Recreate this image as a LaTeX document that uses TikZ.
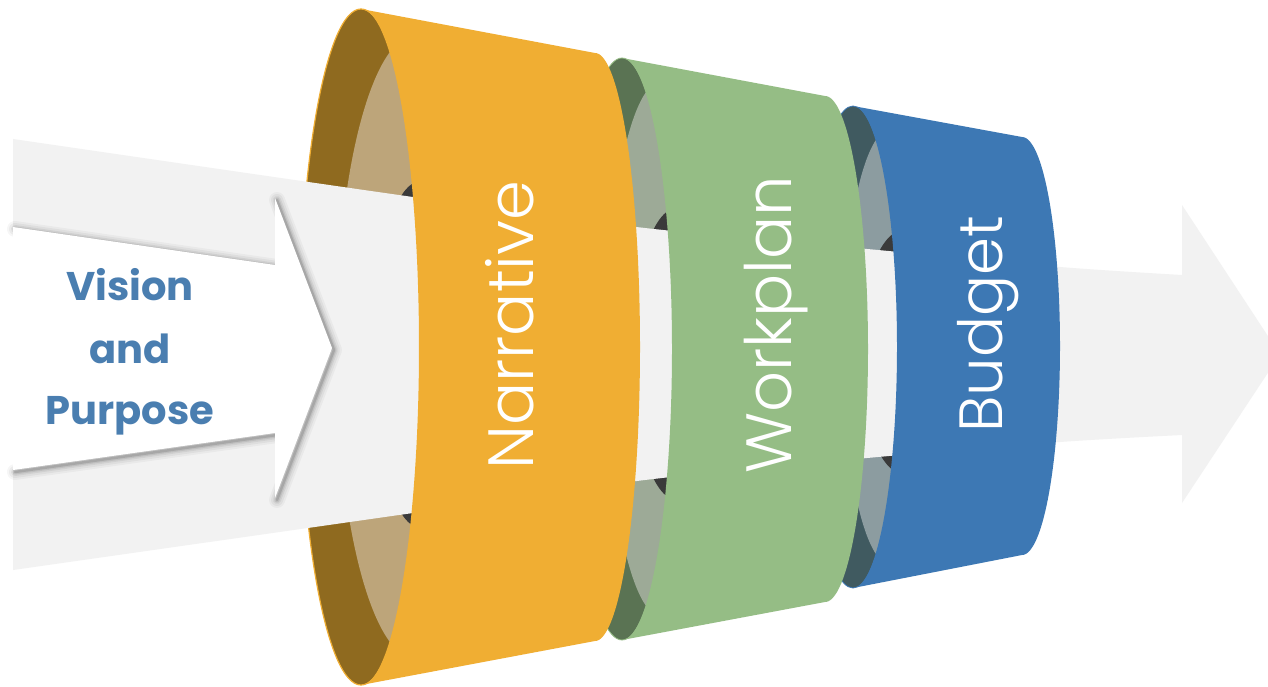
\documentclass[tikz,border=0pt]{standalone}
\usepackage{fontspec}
\setmainfont{Poppins}
\newfontfamily\lightfont{Poppins Light}
\definecolor{nar}{HTML}{F0AE33}
\definecolor{narrim}{HTML}{8F6A1F}
\definecolor{narin}{HTML}{BDA57A}
\definecolor{wrk}{HTML}{95BD85}
\definecolor{wrkrim}{HTML}{5A7353}
\definecolor{wrkin}{HTML}{9DAA97}
\definecolor{bud}{HTML}{3D78B4}
\definecolor{budrim}{HTML}{405A60}
\definecolor{budin}{HTML}{8C9CA0}
\definecolor{hole}{HTML}{3A3A3A}
\definecolor{bandc}{HTML}{F2F2F2}
\definecolor{vis}{HTML}{4A7EB0}
\tikzset{
  vtext/.style={text=vis, font=\fontsize{40}{48}\selectfont\bfseries, inner sep=0pt},
  ctext/.style={text=white, rotate=90, font=\lightfont\fontsize{64}{70}\selectfont, inner sep=0pt, anchor=base},
  shadowline/.style={black, line cap=round, line join=round}
}
\begin{document}
\begin{tikzpicture}[x=1pt,y=-1pt]
\useasboundingbox (0,0) rectangle (1268,687);
\fill[white] (0,0) rectangle (1268,687);
\clip (0,0) rectangle (1268,687);

% ---- openings (inside of the tubes)
\fill[narrim] (361,347) ellipse[x radius=62, y radius=338];
\begin{scope}
  \clip (361,347) ellipse[x radius=62, y radius=338];
  \fill[narin] (416,347) ellipse[x radius=80, y radius=312];
  \fill[hole] (420,354.5) ellipse[x radius=47, y radius=173];
\end{scope}
\draw[nar, line width=1.2pt] (361,347) ellipse[x radius=62, y radius=338];

\fill[wrkrim] (622,349) ellipse[x radius=52, y radius=291];
\begin{scope}
  \clip (622,349) ellipse[x radius=52, y radius=291];
  \fill[wrkin] (662,349) ellipse[x radius=56, y radius=268];
  \fill[hole] (677,354) ellipse[x radius=45, y radius=146];
\end{scope}
\draw[wrk, line width=0.8pt] (622,349) ellipse[x radius=52, y radius=291];

\fill[budrim] (853,347) ellipse[x radius=46, y radius=241];
\begin{scope}
  \clip (853,347) ellipse[x radius=46, y radius=241];
  \fill[budin] (891,347) ellipse[x radius=48, y radius=218];
  \fill[hole] (904,352) ellipse[x radius=44, y radius=122];
\end{scope}
\draw[bud, line width=0.8pt] (853,347) ellipse[x radius=46, y radius=241];

% ---- big light arrow
\fill[bandc] (13,139) -- plot[smooth] coordinates {(13,139) (413,197) (645,228) (878,250) (1060,267) (1182,275)}
  -- (1182,205) -- (1280,354.5) -- (1182,503) -- (1182,435)
  -- plot[smooth] coordinates {(1182,435) (1060,442) (878,457) (645,480) (413,513) (13,570)} -- cycle;

% ---- white chevron with soft shadow
\begin{scope}[shift={(2,2)}]
\foreach \w/\o in {16/0.035,12/0.045,8/0.06,5/0.08,2.5/0.12}{
  \draw[shadowline, line width=\w pt, opacity=\o] (13,227) -- (275,265);
  \draw[shadowline, line width=\w pt, opacity=\o] (275,198) -- (332,348) -- (275,498);
  \draw[shadowline, line width=\w pt, opacity=\o] (275,433) -- (13,470);
}
\end{scope}
\fill[white] (13,227) -- (275,265) -- (275,198) -- (332,348) -- (275,498) -- (275,433) -- (13,470) -- cycle;

% ---- front faces
\fill[nar] (361,9) -- (595,53)
  -- plot[domain=-90:90,samples=90] ({595+45*cos(\x)},{347+294*sin(\x)})
  -- (361,685)
  -- plot[domain=90:-90,samples=90] ({361+58*cos(\x)},{347+338*sin(\x)}) -- cycle;
\fill[wrk] (622,58) -- (825,96)
  -- plot[domain=-90:90,samples=90] ({825+43*cos(\x)},{349+253*sin(\x)})
  -- (622,640)
  -- plot[domain=90:-90,samples=90] ({622+50*cos(\x)},{349+291*sin(\x)}) -- cycle;
\fill[bud] (853,106) -- (1022,137)
  -- plot[domain=-90:90,samples=90] ({1022+38*cos(\x)},{346+209*sin(\x)})
  -- (853,588)
  -- plot[domain=90:-90,samples=90] ({853+44*cos(\x)},{347+241*sin(\x)}) -- cycle;

% ---- texts
\node[vtext, anchor=base] (vision) at (130,300) {Vision};
\node[vtext, anchor=base] (and) at (130,363) {and};
\node[vtext, anchor=base] (purpose) at (130,424) {Purpose};
\node[ctext] (narrative) at (533,325) {Narrative};
\node[ctext] (workplan) at (791,325) {Workplan};
\node[ctext, font=\lightfont\fontsize{61}{66}\selectfont] (budget) at (1002,324) {Budget};
\end{tikzpicture}
\end{document}
